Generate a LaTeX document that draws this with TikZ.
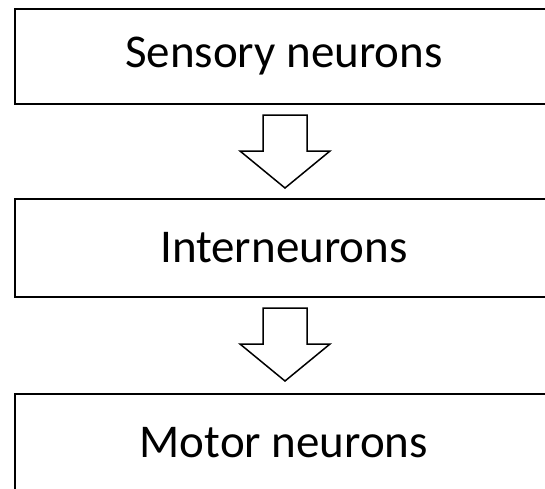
\documentclass[tikz,border=0pt]{standalone}
\usepackage{fontspec}
\setmainfont{Carlito}
\begin{document}
\begin{tikzpicture}[x=1pt,y=-1pt,
  stagebox/.style={draw=black,line width=1.8pt,fill=white,minimum width=538pt,anchor=north west,inner sep=0pt,font=\fontsize{47}{52}\selectfont},
  blockarrow/.style={draw=black,line width=1.5pt,fill=white,line join=miter}]
\useasboundingbox (0,0) rectangle (545,488);
\clip (0,0) rectangle (545,488);
\node[stagebox,minimum height=95pt] (s) at (14,8) {Sensory neurons};
\node[stagebox,minimum height=98pt] (i) at (14,198) {Interneurons};
\node[stagebox,minimum height=97pt] (m) at (14,393) {Motor neurons};
\coordinate (a1) at (285,115);
\coordinate (a2) at (285,308);
\foreach \a in {a1,a2}{
  \draw[blockarrow] (\a) ++(-22,0) -- ++(44,0) -- ++(0,36) -- ++(23,0) -- ++(-45,37) -- ++(-45,-37) -- ++(23,0) -- cycle;
}
\end{tikzpicture}
\end{document}
